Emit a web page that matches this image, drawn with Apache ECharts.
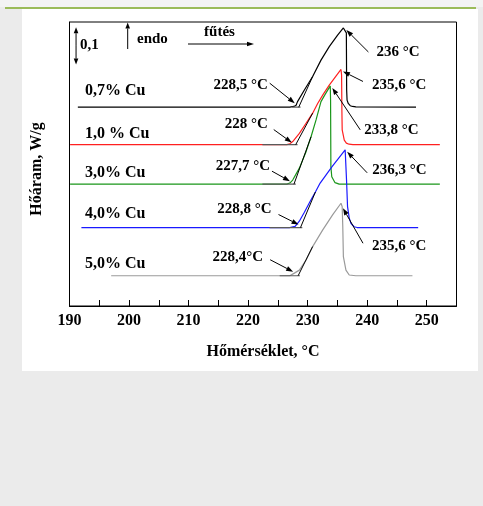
<!DOCTYPE html>
<html>
<head>
<meta charset="utf-8">
<script src="https://cdn.jsdelivr.net/npm/echarts@6/dist/echarts.min.js"></script>
<style>
  html, body { margin: 0; padding: 0; background: #ebebeb; }
  #page { position: relative; width: 483px; height: 506px; overflow: hidden; background: #ebebeb; }
  #topband { position: absolute; left: 0; top: 0; width: 483px; height: 7px; background: #f3f3f3; }
  #rule { position: absolute; left: 5px; top: 7px; width: 471px; height: 2px; background: #9bbb59; }
  #panel { position: absolute; left: 22px; top: 9px; width: 456px; height: 362px; background: #ffffff; }
  #c { position: absolute; left: 0; top: 0; width: 483px; height: 506px; }
</style>
</head>
<body>
<div id="page">
  <div id="topband"></div>
  <div id="rule"></div>
  <div id="panel"></div>
  <div id="c"></div>
</div>
<script>
// ---- axis range ----
const xMin = 190, xMax = 255, xStep = 5;
const yMin = 0, yMax = 0.76;

// ---- DSC heating curves, temperature (°C) and heat flow (W/g, stacked offsets) ----
const cu07T = [191.4, 227.0, 227.7, 228.06, 228.3, 229.45, 230.84, 232.24, 233.63, 235.03, 236.0, 236.5, 236.55, 236.62, 236.82, 237.15, 237.54, 238.1, 248.2];
const cu07Q = [0.532, 0.532, 0.534, 0.537, 0.547, 0.578, 0.614, 0.658, 0.694, 0.725, 0.744, 0.731, 0.578, 0.551, 0.542, 0.536, 0.534, 0.533, 0.532];

const cu10T = [190.1, 226.5, 227.0, 227.49, 228.61, 229.73, 230.84, 231.68, 232.63, 233.63, 235.6, 235.7, 235.75, 235.8, 236.15, 236.5, 236.95, 237.6, 252.2];
const cu10Q = [0.432, 0.432, 0.434, 0.440, 0.462, 0.489, 0.516, 0.542, 0.567, 0.591, 0.633, 0.618, 0.524, 0.471, 0.444, 0.436, 0.433, 0.432, 0.432];

const cu30T = [190.1, 226.5, 227.0, 227.49, 228.61, 229.73, 230.57, 231.41, 232.24, 232.96, 233.8, 233.85, 233.9, 234.05, 234.6, 235.3, 252.2];
const cu30Q = [0.326, 0.326, 0.329, 0.337, 0.369, 0.413, 0.453, 0.498, 0.547, 0.567, 0.589, 0.550, 0.373, 0.346, 0.330, 0.326, 0.326];

const cu40T = [192.0, 227.0, 227.9, 228.6, 229.45, 230.45, 231.3, 232.1, 234.1, 236.3, 236.53, 236.7, 236.98, 237.27, 237.8, 238.3, 248.56];
const cu40Q = [0.210, 0.210, 0.213, 0.227, 0.251, 0.281, 0.305, 0.329, 0.373, 0.418, 0.337, 0.266, 0.236, 0.221, 0.212, 0.210, 0.210];

const cu50T = [197.0, 227.0, 227.77, 228.61, 229.73, 230.84, 232.51, 234.19, 235.6, 235.8, 235.9, 236.0, 236.43, 236.98, 238.1, 247.6];
const cu50Q = [0.081, 0.081, 0.088, 0.096, 0.123, 0.159, 0.203, 0.244, 0.275, 0.266, 0.212, 0.132, 0.096, 0.083, 0.081, 0.081];

const curveNames = ['0,7% Cu', '1,0 % Cu', '3,0% Cu', '4,0% Cu', '5,0% Cu'];
const curveT = [cu07T, cu10T, cu30T, cu40T, cu50T];
const curveQ = [cu07Q, cu10Q, cu30Q, cu40Q, cu50Q];

// extrapolated onset and peak temperatures
const onsetT = [228.5, 228.0, 227.7, 228.8, 228.4];
const onsetText = ['228,5 °C', '228 °C', '227,7 °C', '228,8 °C', '228,4°C'];
const peakText = ['236 °C', '235,6 °C', '233,8 °C', '236,3 °C', '235,6 °C'];
// onset construction: tangent runs to this point index of the curve; baseline extension start
const tangentToIdx = [6, 6, 6, 6, 5];
const baseExtFrom = [227.4, 222.4, 222.4, 223.6, 225.3];

// ---- styling / layout ----
const colors = ['#000000', '#ff2020', '#1a961a', '#1a1aff', '#9a9a9a'];
const serif = '"Liberation Serif", "Times New Roman", serif';
const font15 = 'bold 15px ' + serif;
const font16 = 'bold 16px ' + serif;

// pixel offsets of arrow tip / tail and label anchor, relative to the marked point
const peakLayout = [
  { tip: [3, 2], tail: [25, 24], label: [33, 24] },
  { tip: [2, 2], tail: [22, 12], label: [31, 16] },
  { tip: [2, 2], tail: [30, 44], label: [34, 44] },
  { tip: [2, 2], tail: [22, 23], label: [27, 20] },
  { tip: [2, 5], tail: [22, 40], label: [31, 43] }
];
const onsetLayout = [
  { tip: [-4, -4], tail: [-29, -24], label: [-31, -22] },
  { tip: [-4, -2], tail: [-22, -15], label: [-28, -20] },
  { tip: [-4, -3], tail: [-22, -13], label: [-24, -18] },
  { tip: [-2, -3], tail: [-22, -13], label: [-29, -18] },
  { tip: [-5, -4], tail: [-28, -16], label: [-35, -19] }
];
const nameLabelX = 85;
const nameLabelDy = [-16, -11, -11, -14, -12];

// ---- series ----
const series = [];
curveT.forEach((T, k) => {
  const Q = curveQ[k];
  series.push({
    type: 'line', name: curveNames[k], showSymbol: false, z: 2,
    data: T.map((t, i) => [t, Q[i]]),
    lineStyle: { color: colors[k], width: 1.2 }
  });
});
curveT.forEach((T, k) => {
  const Q = curveQ[k];
  const base = Q[0];
  series.push({
    type: 'line', showSymbol: false, z: 3,
    data: [[baseExtFrom[k], base], [onsetT[k] + 0.3, base]],
    lineStyle: { color: '#5a5a5a', width: 1.2 }
  });
  const j = tangentToIdx[k];
  series.push({
    type: 'line', showSymbol: false, z: 4,
    data: [[onsetT[k], base], [T[j], Q[j]]],
    lineStyle: { color: '#000', width: 1 }
  });
});

const option = {
  animation: false,
  backgroundColor: 'transparent',
  grid: { left: 69.5, right: 26.5, top: 22, bottom: 200, show: true, borderColor: '#000', borderWidth: 1, backgroundColor: '#fff' },
  xAxis: {
    type: 'value', min: xMin, max: xMax, interval: xStep,
    axisLine: { show: true, lineStyle: { color: '#000', width: 1 } },
    axisTick: { show: true, inside: true, length: 6, lineStyle: { color: '#000' } },
    axisLabel: {
      margin: 7, color: '#000', fontFamily: serif, fontWeight: 'bold', fontSize: 16,
      formatter: v => (v % 10 === 0 ? String(v) : '')
    },
    splitLine: { show: false },
    name: 'Hőmérséklet, °C', nameLocation: 'middle', nameGap: 38,
    nameTextStyle: { color: '#000', fontFamily: serif, fontWeight: 'bold', fontSize: 16 }
  },
  yAxis: {
    type: 'value', min: yMin, max: yMax,
    axisLine: { show: true, lineStyle: { color: '#000', width: 1 } },
    axisTick: { show: false }, axisLabel: { show: false }, splitLine: { show: false }
  },
  series: series
};

const chart = echarts.init(document.getElementById('c'));
chart.setOption(option);

const px = (t, q) => chart.convertToPixel({ xAxisIndex: 0, yAxisIndex: 0 }, [t, q]);

function text(str, x, y, align, font) {
  return { type: 'text', z: 100, style: { text: str, x: x, y: y, align: align, verticalAlign: 'middle', font: font, fill: '#000' } };
}
function arrowHead(x1, y1, x2, y2, len, hw) {
  const dx = x2 - x1, dy = y2 - y1, L = Math.hypot(dx, dy), ux = dx / L, uy = dy / L;
  const bx = x2 - ux * len, by = y2 - uy * len;
  return {
    base: [bx, by],
    poly: { type: 'polygon', z: 100, shape: { points: [[x2, y2], [bx - uy * hw, by + ux * hw], [bx + uy * hw, by - ux * hw]] }, style: { fill: '#000' } }
  };
}
function arrow(x1, y1, x2, y2, len, hw) {
  const h = arrowHead(x1, y1, x2, y2, len || 7, hw || 2.5);
  return [
    { type: 'line', z: 100, shape: { x1: x1, y1: y1, x2: h.base[0], y2: h.base[1] }, style: { stroke: '#000', lineWidth: 1 } },
    h.poly
  ];
}

const g = [];
curveT.forEach((T, k) => {
  const Q = curveQ[k];
  const base = Q[0];
  // peak
  let m = 0;
  Q.forEach((q, i) => { if (q > Q[m]) m = i; });
  const p = px(T[m], Q[m]);
  const pl = peakLayout[k];
  g.push(...arrow(p[0] + pl.tail[0], p[1] + pl.tail[1], p[0] + pl.tip[0], p[1] + pl.tip[1]));
  g.push(text(peakText[k], p[0] + pl.label[0], p[1] + pl.label[1], 'left', font15));
  // onset
  const o = px(onsetT[k], base);
  const ol = onsetLayout[k];
  g.push(...arrow(o[0] + ol.tail[0], o[1] + ol.tail[1], o[0] + ol.tip[0], o[1] + ol.tip[1]));
  g.push(text(onsetText[k], o[0] + ol.label[0], o[1] + ol.label[1], 'right', font15));
  // curve name
  g.push(text(curveNames[k], nameLabelX, o[1] + nameLabelDy[k], 'left', font16));
});

// y axis title
g.push({ type: 'text', z: 100, x: 37, y: 169, rotation: Math.PI / 2,
  style: { text: 'Hőáram, W/g', x: 0, y: 0, align: 'center', verticalAlign: 'middle', font: font16, fill: '#000' } });

// 0,1 W/g scale bar
const scaleT = 191.1, scaleTop = 0.746, scaleLen = 0.1;
const s1 = px(scaleT, scaleTop), s2 = px(scaleT, scaleTop - scaleLen);
const sm = (s1[1] + s2[1]) / 2;
g.push(...arrow(s1[0], sm, s1[0], s1[1], 6, 2.3));
g.push(...arrow(s1[0], sm, s2[0], s2[1], 6, 2.3));
g.push(text('0,1', s1[0] + 4, sm - 1, 'left', font15));

// endo direction and heating direction
g.push(...arrow(127.7, 49, 127.7, 22.5, 6, 2.3));
g.push(text('endo', 137, 39, 'left', font15));
g.push(text('fűtés', 219.5, 32, 'center', font15));
g.push(...arrow(188, 44, 254, 44, 7, 2.3));

chart.setOption({ graphic: g });
</script>
</body>
</html>
